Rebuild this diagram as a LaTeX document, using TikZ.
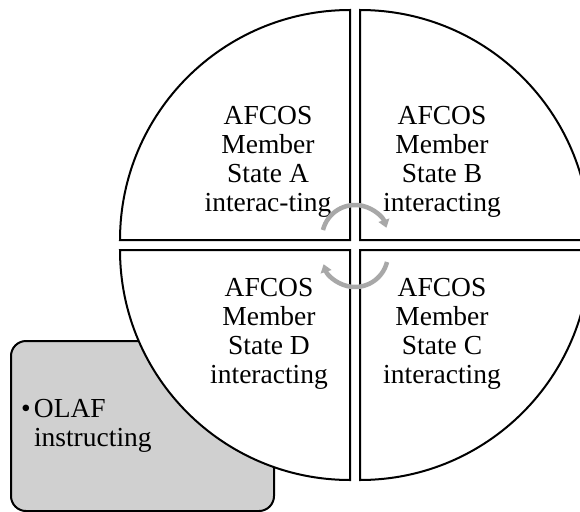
\documentclass[tikz,border=0pt]{standalone}
\usepackage{fontspec}
\setmainfont{Liberation Serif}
\usetikzlibrary{arrows.meta}
\definecolor{boxgray}{HTML}{D0D0D0}
\definecolor{cycgray}{HTML}{A8A8A8}
\begin{document}
\begin{tikzpicture}[x=1pt,y=-1pt,
  quad/.style={draw=black,line width=2pt,fill=white,line join=miter},
  qtext/.style={align=center,font=\fontsize{27.5}{29}\selectfont,inner sep=0pt},
  olafbox/.style={draw=black,line width=2pt,fill=boxgray,rounded corners=15pt,
    minimum width=263pt,minimum height=170pt,text width=243pt,inner xsep=10pt,
    align=left,font=\fontsize{27.5}{29}\selectfont,anchor=north west},
  cyc/.style={draw=cycgray,line width=4.5pt,-{Triangle[length=8pt,width=11pt]}}]
\useasboundingbox (0,0) rectangle (580,511);
\clip (0,0) rectangle (580,511);
\node[olafbox] (olaf) at (10,340) {\makebox[13pt][l]{\textbullet}OLAF\\\hspace*{13pt}instructing};
% quadrants
\path[quad] (350,240) -- (120,240) arc[start angle=180,end angle=270,radius=230] -- cycle;
\path[quad] (360,240) -- (360,10) arc[start angle=270,end angle=360,radius=230] -- cycle;
\path[quad] (360,250) -- (590,250) arc[start angle=0,end angle=90,radius=230] -- cycle;
\path[quad] (350,250) -- (350,480) arc[start angle=90,end angle=180,radius=230] -- cycle;
% texts
\node[qtext] (a) at (268,162) {AFCOS\\Member\\State A\\interac-ting};
\node[qtext] (b) at (442,162) {AFCOS\\Member\\State B\\interacting};
\node[qtext] (d) at (269,334) {AFCOS\\Member\\State D\\interacting};
\node[qtext] (c) at (442,334) {AFCOS\\Member\\State C\\interacting};
% cycle arrows
\coordinate (tc) at (355,238);
\coordinate (bc) at (355,254);
\draw[cyc] ([shift={(194:33)}]tc) arc[start angle=194,end angle=342,radius=33];
\draw[cyc] ([shift={(14:33)}]bc) arc[start angle=14,end angle=162,radius=33];
\end{tikzpicture}
\end{document}
